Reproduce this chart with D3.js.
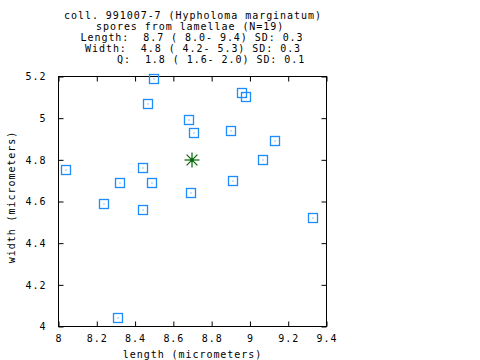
<!DOCTYPE html>
<html>
<head>
<meta charset="utf-8">
<script src="https://cdn.jsdelivr.net/npm/d3@7"></script>
<style>
  html, body { margin: 0; padding: 0; background: #fff; }
  svg text { font-family: "DejaVu Sans Mono", monospace; font-size: 10px; letter-spacing: 0.95px; fill: #000; white-space: pre; }
</style>
</head>
<body>
<svg id="chart" width="480" height="360"></svg>
<script>
// ---- data ----
const titleLines = [
  "coll. 991007-7 (Hypholoma marginatum)",
  "spores from lamellae (N=19)",
  "Length:  8.7 ( 8.0- 9.4) SD: 0.3",
  "Width:  4.8 ( 4.2- 5.3) SD: 0.3",
  "Q:  1.8 ( 1.6- 2.0) SD: 0.1"
];
const titleStarts = [64, 96, 80.5, 85, 117];
const sporeLength = [8.50, 8.47, 8.68, 8.71, 8.04, 8.44, 8.32, 8.49, 8.69, 8.24, 8.44, 8.31, 8.96, 8.98, 8.90, 9.13, 9.07, 8.91, 9.33];
const sporeWidth  = [5.19, 5.07, 4.99, 4.93, 4.75, 4.76, 4.69, 4.69, 4.64, 4.59, 4.56, 4.04, 5.12, 5.10, 4.94, 4.89, 4.80, 4.70, 4.52];
const meanLength = [8.70];
const meanWidth = [4.80];
const xTicks = [8, 8.2, 8.4, 8.6, 8.8, 9, 9.2, 9.4];
const yTicks = [4, 4.2, 4.4, 4.6, 4.8, 5, 5.2];
const xLabel = "length (micrometers)";
const yLabel = "width (micrometers)";

// ---- layout ----
const L = 58.5, R = 326.5, T = 76.5, B = 326.5;
const svg = d3.select("#chart");
const x = d3.scaleLinear().domain([8, 9.4]).range([L, R]);
const y = d3.scaleLinear().domain([4, 5.2]).range([B, T]);
const fmt = d => String(+d.toFixed(1));

// title
svg.append("g").selectAll("text").data(titleLines).join("text")
  .attr("x", (d, i) => titleStarts[i])
  .attr("y", (d, i) => 18.5 + i * 11)
  .text(d => d);

// axes (inward ticks on all sides)
const tk = 5;
const gB = svg.append("g").attr("transform", `translate(0,${B})`)
  .call(d3.axisBottom(x).tickValues(xTicks).tickSize(-tk).tickPadding(8).tickFormat(fmt));
const gT = svg.append("g").attr("transform", `translate(0,${T})`)
  .call(d3.axisTop(x).tickValues(xTicks).tickSize(-tk).tickFormat(""));
const gL = svg.append("g").attr("transform", `translate(${L},0)`)
  .call(d3.axisLeft(y).tickValues(yTicks).tickSize(-tk).tickPadding(12).tickFormat(fmt));
const gR = svg.append("g").attr("transform", `translate(${R},0)`)
  .call(d3.axisRight(y).tickValues(yTicks).tickSize(-tk).tickFormat(""));
[gB, gT, gL, gR].forEach(g => {
  g.select(".domain").remove();
  g.selectAll(".tick line").attr("stroke", "#000").attr("stroke-width", 1);
  g.selectAll(".tick text").attr("font-family", null).attr("font-size", null).attr("fill", "#000");
});
gB.selectAll(".tick text").attr("dy", "0.71em");

// frame
svg.append("rect").attr("x", L).attr("y", T).attr("width", R - L).attr("height", B - T)
  .attr("fill", "none").attr("stroke", "#000").attr("stroke-width", 1);

// axis labels
svg.append("text").attr("x", (L + R) / 2).attr("y", 357.5).attr("text-anchor", "middle").text(xLabel);
svg.append("text").attr("transform", `translate(15,197) rotate(-90)`).attr("text-anchor", "middle").text(yLabel);

// points
const pts = sporeLength.map((d, i) => ({ l: d, w: sporeWidth[i] }));
const s = 9;
const gp = svg.append("g");
gp.selectAll("rect.sq").data(pts).join("rect").attr("class", "sq")
  .attr("x", d => Math.round(x(d.l)) - s / 2)
  .attr("y", d => Math.round(y(d.w)) - s / 2)
  .attr("width", s).attr("height", s)
  .attr("fill", "none").attr("stroke", "#1e8cff").attr("stroke-width", 1.3);
gp.selectAll("rect.dot").data(pts).join("rect").attr("class", "dot")
  .attr("x", d => Math.round(x(d.l)) - 0.5)
  .attr("y", d => Math.round(y(d.w)) - 0.5)
  .attr("width", 1).attr("height", 1).attr("fill", "#1e8cff");

// mean star
const mean = meanLength.map((d, i) => ({ l: d, w: meanWidth[i] }));
const r = 7.5;
const gs = svg.append("g");
mean.forEach(m => {
  const cx = Math.round(x(m.l)), cy = Math.round(y(m.w));
  [[0, r], [r, 0], [r * 0.72, r * 0.72], [r * 0.72, -r * 0.72]].forEach(([dx, dy]) => {
    gs.append("line").attr("x1", cx - dx).attr("y1", cy - dy).attr("x2", cx + dx).attr("y2", cy + dy)
      .attr("stroke", "#006400").attr("stroke-width", 1.2);
  });
  gs.append("circle").attr("cx", cx).attr("cy", cy).attr("r", 1.8).attr("fill", "#006400");
});
</script>
</body>
</html>
